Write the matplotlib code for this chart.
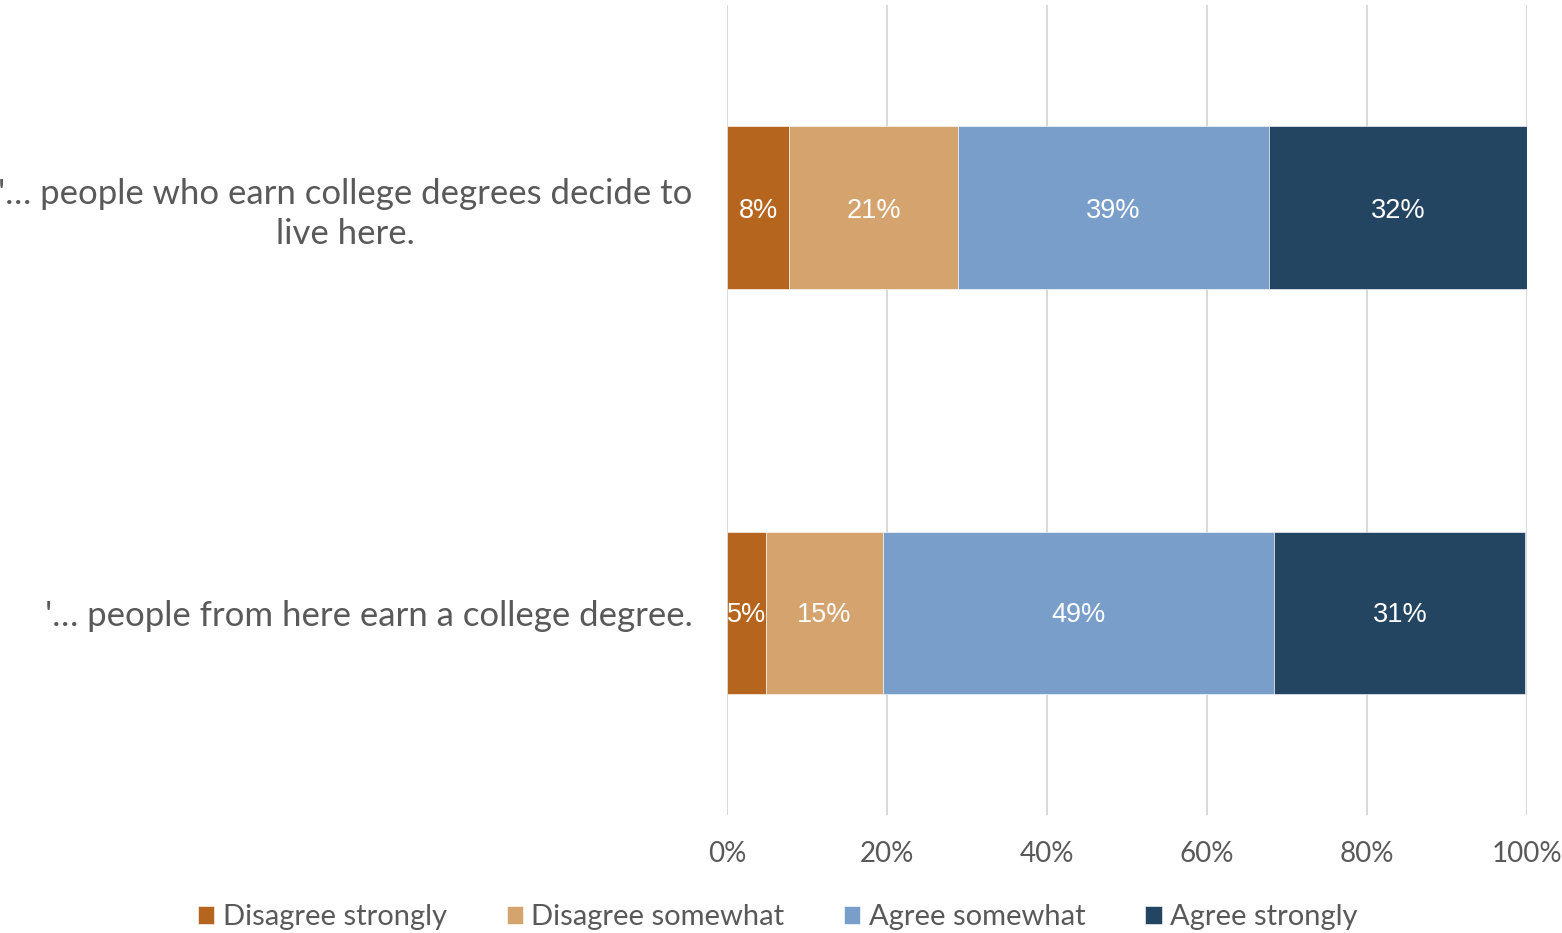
import matplotlib.pyplot as plt
import numpy as np

categories = ["'… people from here earn a college degree.",
              "'… people who earn college degrees decide to\nlive here."]
series = ["Disagree strongly", "Disagree somewhat", "Agree somewhat", "Agree strongly"]
disagree_strongly = [4.9, 7.8]
disagree_somewhat = [14.6, 21.1]
agree_somewhat = [48.9, 38.8]
agree_strongly = [31.4, 32.4]
colors = ["#B5651D", "#D4A36E", "#7A9ECA", "#244561"]

txt = "#595959"
plt.rcParams['font.family'] = ['Lato', 'DejaVu Sans']

fig = plt.figure(figsize=(15.62, 9.33), dpi=100)
ax = fig.add_axes([727 / 1562, 1 - 815 / 933, 800 / 1562, 810 / 933])

y = np.arange(len(categories))
left = np.zeros(len(categories))
for name, vals, c in zip(series, [disagree_strongly, disagree_somewhat, agree_somewhat, agree_strongly], colors):
    vals = np.array(vals)
    ax.barh(y, vals, left=left, height=0.4, color=c, label=name,
            edgecolor='white', linewidth=0.4, zorder=3)
    for yi, l, v in zip(y, left, vals):
        ax.text(l + v / 2, yi, f"{v:.0f}%", ha='center', va='center_baseline',
                color='white', fontsize=19.5, family='Liberation Sans', zorder=4)
    left += vals

ax.set_xlim(0, 100)
ax.set_ylim(-0.5, 1.5)
ax.set_xticks(np.arange(0, 101, 20))
ax.set_xticklabels([f"{t}%" for t in range(0, 101, 20)], fontsize=20, color=txt)
ax.set_yticks(y)
ax.set_yticklabels(categories, fontsize=25, color=txt, ha='right',
                   multialignment='center', linespacing=1.3)
ax.tick_params(axis='y', length=0, pad=25)
ax.tick_params(axis='x', length=0, pad=19)
ax.grid(axis='x', color='#D9D9D9', linewidth=1.5, zorder=0)
for s in ax.spines.values():
    s.set_visible(False)

fig.legend(loc='lower center', bbox_to_anchor=(0.498, -0.025), ncol=4, frameon=False,
           fontsize=21, labelcolor=txt, handlelength=0.55, handleheight=0.55,
           handletextpad=0.3, columnspacing=2.05)

fig.savefig("out.png", dpi=100)
